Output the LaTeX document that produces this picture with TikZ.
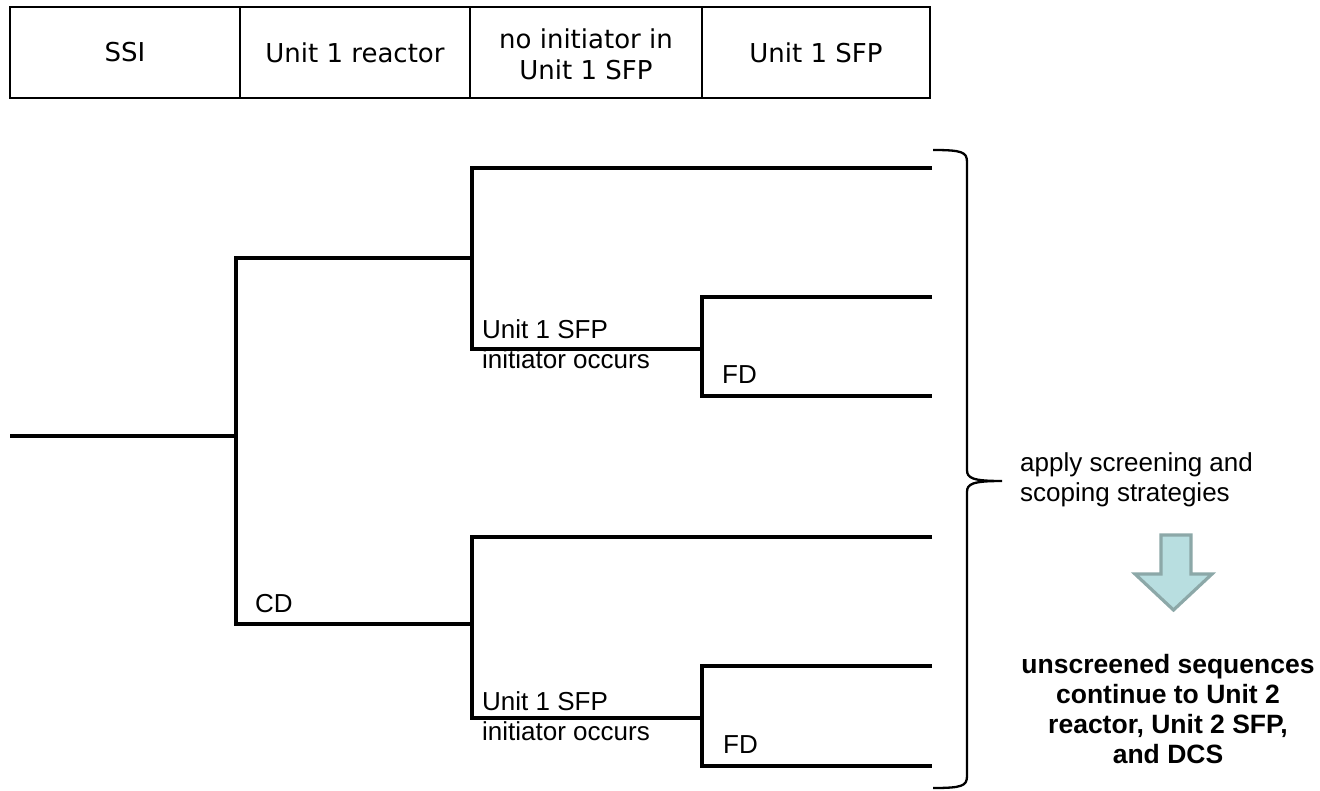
\documentclass[tikz,border=0pt]{standalone}
\usepackage{fontspec}
\setmainfont{Liberation Sans}
\newfontfamily\hdrfont{DejaVu Sans}
\definecolor{arrowfill}{RGB}{184,222,224}
\definecolor{arrowdraw}{RGB}{140,168,168}
\begin{document}
\begin{tikzpicture}[x=1pt,y=-1pt,
  tree/.style={line width=3.3pt},
  hdrline/.style={line width=2.7pt},
  hdrtext/.style={font=\hdrfont\fontsize{26}{31}\selectfont,align=center,inner sep=0pt},
  lbl/.style={font=\fontsize{26}{30}\selectfont,anchor=base west,inner sep=0pt},
  bold/.style={font=\bfseries\fontsize{26.5}{30}\selectfont,anchor=base,inner sep=0pt},
  brace/.style={line width=2.3pt},
  bigarrow/.style={fill=arrowfill,draw=arrowdraw,line width=3.2pt,line join=miter}]
\useasboundingbox (0,0) rectangle (1320,790);
% header table
\draw[hdrline] (10,7) rectangle (930,98);
\draw[hdrline] (240,7) -- (240,98);
\draw[hdrline] (470,7) -- (470,98);
\draw[hdrline] (702,7) -- (702,98);
\node[hdrtext] (h1) at (125,52.5) {SSI};
\node[hdrtext] (h2) at (355,52.5) {Unit 1 reactor};
\node[hdrtext] (h3) at (586,54) {no initiator in\\Unit 1 SFP};
\node[hdrtext] (h4) at (816,52.5) {Unit 1 SFP};
% tree coordinates
\coordinate (root) at (10,436);
\coordinate (A) at (236,436);
\coordinate (Atop) at (236,258);
\coordinate (Abot) at (236,624);
\coordinate (B1) at (472,258);
\coordinate (B1top) at (472,168);
\coordinate (B1bot) at (472,349);
\coordinate (E1) at (932,168);
\coordinate (C1) at (702,349);
\coordinate (C1top) at (702,297);
\coordinate (C1bot) at (702,396);
\coordinate (E2) at (932,297);
\coordinate (E3) at (932,396);
\coordinate (B2) at (472,624);
\coordinate (B2top) at (472,537);
\coordinate (B2bot) at (472,718);
\coordinate (E4) at (932,537);
\coordinate (C2) at (702,718);
\coordinate (C2top) at (702,666);
\coordinate (C2bot) at (702,766);
\coordinate (E5) at (932,666);
\coordinate (E6) at (932,766);
% tree lines
\draw[tree] (root) -- (A);
\draw[tree] (B1) -- (Atop) -- (Abot) -- (B2);
\draw[tree] (E1) -- (B1top) -- (B1bot) -- (C1);
\draw[tree] (E2) -- (C1top) -- (C1bot) -- (E3);
\draw[tree] (E4) -- (B2top) -- (B2bot) -- (C2);
\draw[tree] (E5) -- (C2top) -- (C2bot) -- (E6);
% tree labels
\node[lbl] (u1a) at (482,338) {Unit 1 SFP};
\node[lbl] (u1b) at (482,368) {initiator occurs};
\node[lbl] (fd1) at (722,383) {FD};
\node[lbl] (u2a) at (482,710) {Unit 1 SFP};
\node[lbl] (u2b) at (482,740) {initiator occurs};
\node[lbl] (fd2) at (723,753) {FD};
\node[lbl] (cd) at (255,612) {CD};
% brace
\coordinate (btop) at (933,150);
\coordinate (btip) at (1002,481);
\coordinate (bbot) at (933,788);
\draw[brace] (btop) .. controls (962,150) and (967,152) .. (967,162)
  -- (967,470) .. controls (967,478) and (972,481) .. (btip)
  .. controls (972,481) and (967,484) .. (967,492)
  -- (967,776) .. controls (967,786) and (962,788) .. (bbot);
% right texts
\node[lbl] (ap1) at (1020,471) {apply screening and};
\node[lbl] (ap2) at (1020,501) {scoping strategies};
\draw[bigarrow] (1161,535) -- (1191,535) -- (1191,574) -- (1212,574)
  -- (1173.5,610) -- (1135,574) -- (1161,574) -- cycle;
\node[bold] (r1) at (1168,673) {unscreened sequences};
\node[bold] (r2) at (1168,703) {continue to Unit 2};
\node[bold] (r3) at (1168,733) {reactor, Unit 2 SFP,};
\node[bold] (r4) at (1168,763) {and DCS};
\end{tikzpicture}
\end{document}
